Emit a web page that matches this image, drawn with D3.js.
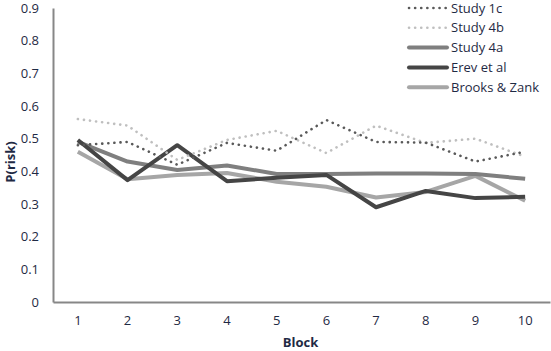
<!DOCTYPE html>
<html>
<head>
<meta charset="utf-8">
<script src="https://cdn.jsdelivr.net/npm/d3@7"></script>
<style>
  body { margin: 0; background: #fff; }
  svg text { font-family: "Open Sans", "DejaVu Sans", sans-serif; }
</style>
</head>
<body>
<svg id="chart"></svg>
<script>
// data
var blocks = [1, 2, 3, 4, 5, 6, 7, 8, 9, 10]
var study1c = [0.48, 0.49, 0.42, 0.487, 0.463, 0.557, 0.49, 0.488, 0.43, 0.46]
var study4b = [0.56, 0.54, 0.435, 0.496, 0.524, 0.456, 0.54, 0.487, 0.50, 0.445]
var study4a = [0.49, 0.43, 0.404, 0.418, 0.392, 0.392, 0.393, 0.393, 0.392, 0.377]
var erev = [0.496, 0.373, 0.48, 0.37, 0.38, 0.389, 0.29, 0.34, 0.318, 0.322]
var brooks = [0.46, 0.376, 0.389, 0.395, 0.368, 0.353, 0.32, 0.337, 0.386, 0.31]
var seriesNames = ['Study 1c', 'Study 4b', 'Study 4a', 'Erev et al', 'Brooks & Zank']
var yTicks = [0, 0.1, 0.2, 0.3, 0.4, 0.5, 0.6, 0.7, 0.8, 0.9]

var series = [
  {name: seriesNames[0], values: study1c, color: '#595959', dotted: true},
  {name: seriesNames[1], values: study4b, color: '#bfbfbf', dotted: true},
  {name: seriesNames[2], values: study4a, color: '#7f7f7f', dotted: false},
  {name: seriesNames[3], values: erev, color: '#454545', dotted: false},
  {name: seriesNames[4], values: brooks, color: '#a6a6a6', dotted: false}
]

var outerWidth = 551, outerHeight = 351
var margins = {top: 8, right: 1, bottom: 49, left: 53}

var svg = d3.select('svg#chart')
    .attr('width', outerWidth)
    .attr('height', outerHeight)

var xScale = d3.scaleBand()
    .domain(blocks)
    .range([margins.left, outerWidth - margins.right])

var yScale = d3.scaleLinear()
    .domain([0, 0.9])
    .range([outerHeight - margins.bottom, margins.top])

var textColor = '#1f2a44'
var axisColor = '#878787'

// y axis
var yAxis = d3.axisLeft(yScale).tickValues(yTicks).tickSize(0).tickPadding(14)
    .tickFormat(function(d) { return d === 0 ? '0' : d3.format('.1f')(d) })
var gy = svg.append('g')
    .attr('transform', 'translate(' + margins.left + ',0)')
    .call(yAxis)
gy.select('.domain').attr('stroke', axisColor).attr('stroke-width', 2)
gy.selectAll('text').attr('fill', textColor).style('font-size', '13px')

// x axis
var xAxis = d3.axisBottom(xScale).tickSize(0).tickPadding(14)
var gx = svg.append('g')
    .attr('transform', 'translate(0,' + yScale(0) + ')')
    .call(xAxis)
gx.select('.domain').attr('stroke', axisColor).attr('stroke-width', 2)
gx.selectAll('text').attr('fill', textColor).style('font-size', '13px')

// axis titles
svg.append('text')
    .attr('x', margins.left + (outerWidth - margins.left - margins.right) / 2 - 1)
    .attr('y', 347)
    .attr('text-anchor', 'middle')
    .attr('fill', textColor)
    .style('font-size', '13px')
    .style('font-weight', 'bold')
    .text('Block')

svg.append('text')
    .attr('transform', 'translate(15,162) rotate(-90)')
    .attr('text-anchor', 'middle')
    .attr('fill', textColor)
    .style('font-size', '13px')
    .style('font-weight', 'bold')
    .text('P(risk)')

// lines
var line = d3.line()
    .x(function(d, i) { return xScale(blocks[i]) + xScale.bandwidth() / 2 })
    .y(function(d) { return yScale(d) })

function styleLine(sel, s) {
  sel.attr('fill', 'none').attr('stroke', s.color)
  if (s.dotted) {
    sel.attr('stroke-width', 2.6)
      .attr('stroke-dasharray', '0.1 6')
      .attr('stroke-linecap', 'round')
  } else {
    sel.attr('stroke-width', 4)
      .attr('stroke-linejoin', 'round')
  }
}

// draw solid ones first, dotted on top
var order = [4, 2, 3, 1, 0]
order.forEach(function(k) {
  var s = series[k]
  svg.append('path').datum(s.values).attr('d', line).call(styleLine, s)
})

// legend
var legend = svg.append('g')
series.forEach(function(s, i) {
  var ly = 8 + i * 19.8
  legend.append('line')
      .attr('x1', 409).attr('x2', 447)
      .attr('y1', ly).attr('y2', ly)
      .call(styleLine, s)
      .attr('stroke-linecap', 'round')
  legend.append('text')
      .attr('x', 451)
      .attr('y', ly + 4.5)
      .attr('fill', textColor)
      .style('font-size', '13px')
      .text(s.name)
})
</script>
</body>
</html>
